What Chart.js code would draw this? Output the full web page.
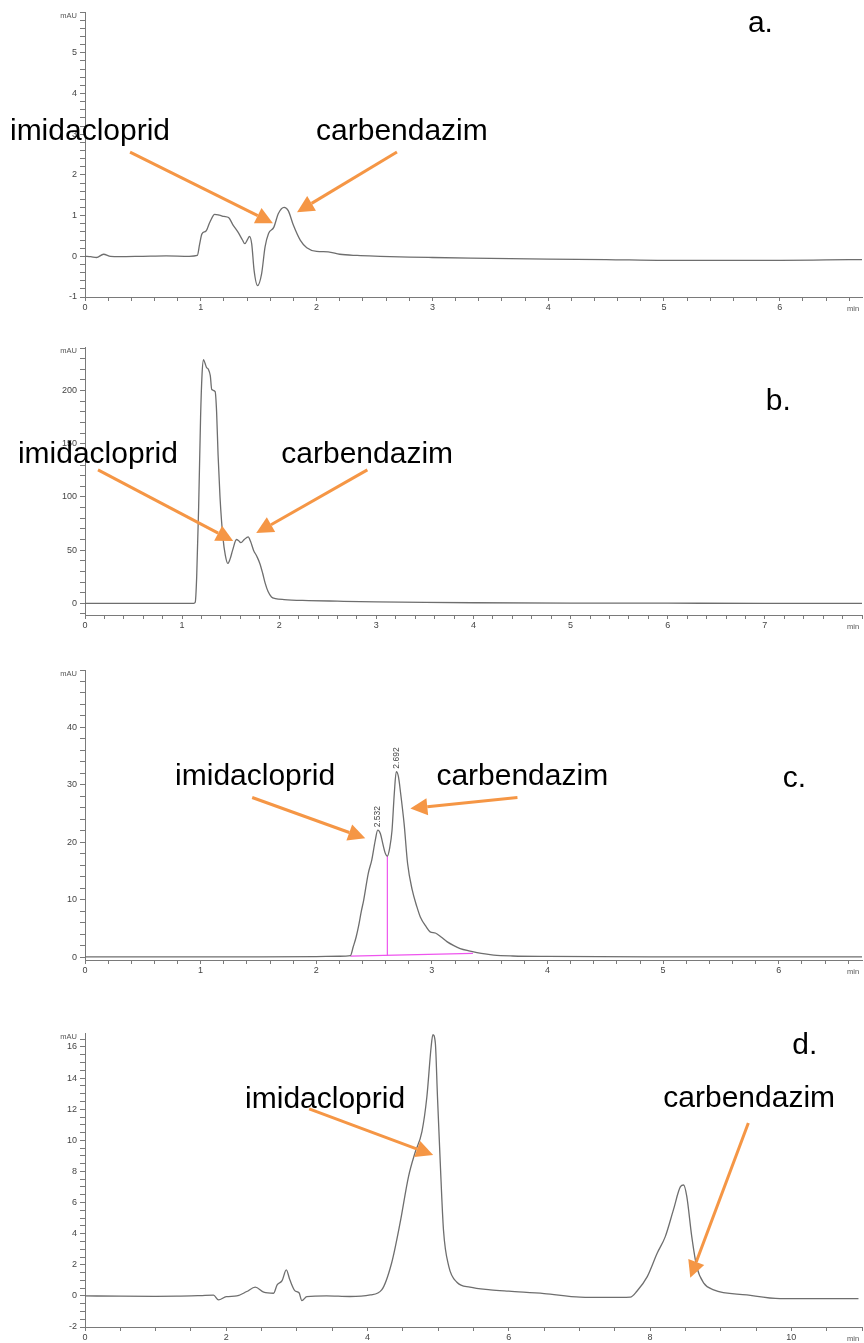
<!DOCTYPE html>
<html>
<head>
<meta charset="utf-8">
<script src="https://cdn.jsdelivr.net/npm/chart.js@4/dist/chart.umd.min.js"></script>
<style>
  body { margin: 0; background: #fff; }
  canvas.panel { position: absolute; left: 0; }
</style>
</head>
<body>
<canvas id="chartA" class="panel" width="864" height="320" style="top:0px"></canvas>
<canvas id="chartB" class="panel" width="864" height="310" style="top:330px"></canvas>
<canvas id="chartC" class="panel" width="864" height="330" style="top:650px"></canvas>
<canvas id="chartD" class="panel" width="864" height="330" style="top:1013px"></canvas>
<script>
// run a: retention time (min) / absorbance (mAU)
var timeA = [0, 0.05, 0.1, 0.16, 0.22, 0.3, 0.5, 0.7, 0.9, 0.97, 0.99, 1.01, 1.045, 1.08, 1.12, 1.16, 1.2, 1.24, 1.28, 1.32,
             1.36, 1.38, 1.405, 1.42, 1.44, 1.46, 1.49, 1.525, 1.555, 1.585, 1.63, 1.67, 1.72, 1.755, 1.8, 1.86, 1.915,
             2.0, 2.1, 2.2, 2.35, 2.55, 2.8, 3.0, 3.5, 4.0, 4.5, 5.0, 5.5, 6.0, 6.4, 6.71];
var signalA = [0, -0.01, -0.03, 0.05, 0.0, -0.01, 0.0, 0.01, 0.0, 0.02, 0.3, 0.55, 0.62, 0.85, 1.03, 1.01, 0.98, 0.95, 0.76, 0.6,
               0.4, 0.31, 0.42, 0.49, 0.3, -0.34, -0.72, -0.43, 0.23, 0.56, 0.71, 1.05, 1.2, 1.12, 0.76, 0.39, 0.21,
               0.12, 0.11, 0.05, 0.02, 0.0, -0.02, -0.03, -0.05, -0.07, -0.08, -0.1, -0.1, -0.1, -0.09, -0.08];

// run b
var timeB = [0, 0.5, 1.0, 1.12, 1.135, 1.15, 1.17, 1.19, 1.205, 1.22, 1.235, 1.25, 1.27, 1.29, 1.305, 1.34, 1.355, 1.37, 1.39,
             1.42, 1.445, 1.47, 1.495, 1.52, 1.56, 1.58, 1.605, 1.64, 1.68, 1.705, 1.735, 1.77, 1.8, 1.83, 1.855, 1.885,
             1.92, 1.96, 2.05, 2.3, 2.6, 3.0, 3.5, 4, 5, 6, 7, 8];
var signalB = [0, 0, 0, 0, 1, 25, 90, 175, 215, 229, 226, 222, 220, 214, 201, 199, 180, 140, 100,
               62, 45, 37.5, 42, 50, 60, 59, 57, 60, 62.5, 58, 50, 44, 37.5, 28, 19, 11,
               6, 4.5, 3.5, 2.6, 2.0, 1.3, 0.8, 0.5, 0.2, 0.1, 0, 0];

// run c
var timeC = [0, 0.5, 1, 1.5, 2.0, 2.2, 2.295, 2.32, 2.345, 2.365, 2.39, 2.41, 2.45, 2.48, 2.51, 2.532, 2.555, 2.575, 2.595,
             2.615, 2.635, 2.655, 2.675, 2.692, 2.71, 2.73, 2.76, 2.79, 2.83, 2.87, 2.9, 2.95, 2.985, 3.03, 3.08, 3.13,
             3.19, 3.245, 3.32, 3.39, 3.46, 3.535, 3.7, 4, 5, 6, 6.72];
var signalC = [0.05, 0.05, 0.05, 0.05, 0.1, 0.15, 0.25, 1.8, 3.5, 5.3, 8, 9.9, 14.6, 16.9, 20.3, 22.1, 21.5, 19.8, 18.2,
               17.6, 19, 22, 28.5, 32.3, 31.5, 28.5, 23.2, 16.3, 11.7, 8.8, 7.0, 5.3, 4.4, 4.2, 3.5, 2.7,
               2.0, 1.5, 1.1, 0.8, 0.55, 0.35, 0.2, 0.12, 0.05, 0.05, 0.05];
var peakTimesC = [2.532, 2.692];
// integration baseline and drop line of run c
var baseTimeC = [2.295, 3.355];
var baseSignalC = [0.17, 0.64];
var dropTimeC = [2.615, 2.615];
var dropSignalC = [0.3, 17.6];

// run d
var timeD = [0, 0.5, 1.0, 1.3, 1.63, 1.82, 1.89, 2.0, 2.15, 2.29, 2.41, 2.53, 2.67, 2.72, 2.79, 2.85, 2.9, 2.97, 3.03, 3.07,
             3.14, 3.42, 3.75, 4.04, 4.2, 4.34, 4.46, 4.58, 4.67, 4.77, 4.84, 4.9, 4.925, 4.96, 4.99, 5.03, 5.075, 5.15,
             5.265, 5.45, 5.74, 6.0, 6.5, 7.01, 7.4, 7.72, 7.81, 7.96, 8.1, 8.215, 8.33, 8.43, 8.475, 8.52, 8.59, 8.66,
             8.76, 8.9, 9.37, 9.84, 10.4, 10.95];
var signalD = [0, -0.02, -0.03, -0.02, 0.02, 0.05, -0.26, -0.05, 0.0, 0.28, 0.56, 0.24, 0.17, 0.71, 0.98, 1.67, 1.03, 0.34, 0.2, -0.3,
               -0.05, 0.0, -0.04, 0.06, 0.38, 2.1, 4.67, 7.67, 9.17, 10.56, 12.8, 16.0, 16.8, 16.24, 12.8, 8.5, 4.24, 1.9,
               0.88, 0.56, 0.39, 0.3, 0.15, -0.08, -0.1, -0.08, 0.28, 1.24, 2.74, 3.81, 5.53, 7.02, 7.13, 6.38, 3.81, 1.88,
               0.82, 0.39, 0.06, -0.18, -0.18, -0.18];

// captions and arrows, placed in axis units (min, mAU)
var labelsA = [['imidacloprid', -0.648, 2.86], ['carbendazim', 1.995, 2.86], ['a.', 5.725, 5.52]];
var arrowsA = [[0.389, 2.56, 1.623, 0.813], [2.694, 2.56, 1.831, 1.084]];
var labelsB = [['imidacloprid', -0.691, 132], ['carbendazim', 2.021, 132], ['b.', 7.01, 182]];
var arrowsB = [[0.134, 125.5, 1.526, 58.5], [2.907, 125.5, 1.763, 66]];
var labelsC = [['imidacloprid', 0.779, 29.9], ['carbendazim', 3.039, 29.9], ['c.', 6.035, 29.6]];
var arrowsC = [[1.446, 27.8, 2.424, 20.7], [3.74, 27.8, 2.814, 25.9]];
var labelsD = [['imidacloprid', 2.266, 12.08], ['carbendazim', 8.187, 12.15], ['d.', 10.014, 15.55]];
var arrowsD = [[3.173, 12.02, 4.929, 9.06], [9.391, 11.12, 8.569, 1.16]];

var ORANGE = '#f59645';
var TRACE = '#6e6e6e';
var AXIS = '#7a7a7a';

function points(xs, ys) {
    return xs.map(function (t, i) { return { x: t, y: ys[i] }; });
}

function tickList(min, max, step) {
    var out = [];
    var start = Math.ceil(min / step - 1e-9);
    for (var i = start; i * step <= max + 1e-9; i++) {
        out.push({ value: +(i * step).toFixed(4) });
    }
    return out;
}

// labelled tick: a whole multiple of the major step, but not the axis end
function tickLabel(v, major, max) {
    if (Math.abs(v - max) < 1e-6) return '';
    return Math.abs(v / major - Math.round(v / major)) < 1e-6 ? String(v) : '';
}

function drawArrow(ctx, x1, y1, x2, y2) {
    var ang = Math.atan2(y2 - y1, x2 - x1);
    var L = 17, W = 8.5;
    var bx = x2 - L * Math.cos(ang), by = y2 - L * Math.sin(ang);
    ctx.beginPath();
    ctx.moveTo(x1, y1);
    ctx.lineTo(bx, by);
    ctx.stroke();
    ctx.beginPath();
    ctx.moveTo(x2, y2);
    ctx.lineTo(bx + W * Math.sin(ang), by - W * Math.cos(ang));
    ctx.lineTo(bx - W * Math.sin(ang), by + W * Math.cos(ang));
    ctx.closePath();
    ctx.fill();
}

// axis units, captions, arrows and peak times
var decorPlugin = {
    id: 'decor',
    afterDraw: function (chart) {
        var ctx = chart.ctx, xs = chart.scales.x, ys = chart.scales.y, area = chart.chartArea;
        var p = chart.options.plugins.decor;
        ctx.save();
        ctx.fillStyle = '#555';
        ctx.font = '7.5px "Liberation Sans", Arial, sans-serif';
        ctx.textAlign = 'right';
        ctx.textBaseline = 'middle';
        ctx.fillText('mAU', area.left - 8, area.top + 4);
        ctx.textAlign = 'left';
        ctx.fillText('min', area.right - 15, area.bottom + 12);

        if (p.peaks) {
            ctx.font = '8.5px "Liberation Sans", Arial, sans-serif';
            ctx.fillStyle = '#444';
            p.peaks.forEach(function (t) {
                var h = p.signal[p.time.indexOf(t)];
                ctx.save();
                ctx.translate(xs.getPixelForValue(t), ys.getPixelForValue(h) - 3);
                ctx.rotate(-Math.PI / 2);
                ctx.textAlign = 'left';
                ctx.textBaseline = 'middle';
                ctx.fillText(t.toFixed(3), 0, 0);
                ctx.restore();
            });
        }

        ctx.fillStyle = '#000';
        ctx.font = '30px "Liberation Sans", Arial, sans-serif';
        ctx.textAlign = 'left';
        ctx.textBaseline = 'alphabetic';
        p.labels.forEach(function (l) {
            ctx.fillText(l[0], xs.getPixelForValue(l[1]), ys.getPixelForValue(l[2]));
        });

        ctx.strokeStyle = ORANGE;
        ctx.fillStyle = ORANGE;
        ctx.lineWidth = 3;
        p.arrows.forEach(function (a) {
            drawArrow(ctx, xs.getPixelForValue(a[0]), ys.getPixelForValue(a[1]),
                      xs.getPixelForValue(a[2]), ys.getPixelForValue(a[3]));
        });
        ctx.restore();
    }
};

function makeChart(id, s) {
    var H = document.getElementById(id).height;
    var datasets = [{
        data: points(s.time, s.signal),
        borderColor: TRACE,
        borderWidth: 1.3,
        pointRadius: 0,
        cubicInterpolationMode: 'monotone',
        fill: false
    }];
    (s.extra || []).forEach(function (e) {
        datasets.push({ data: e, borderColor: '#ee55ee', borderWidth: 1.2, pointRadius: 0, tension: 0, fill: false });
    });
    var tickFont = { family: '"Liberation Sans", Arial, sans-serif', size: 9 };
    return new Chart(document.getElementById(id), {
        type: 'line',
        data: { datasets: datasets },
        options: {
            responsive: false,
            animation: false,
            layout: { padding: { top: s.padTop, right: 2, left: 0, bottom: 0 } },
            plugins: {
                legend: { display: false },
                tooltip: { enabled: false },
                decor: { labels: s.labels, arrows: s.arrows, peaks: s.peaks, time: s.time, signal: s.signal }
            },
            scales: {
                x: {
                    type: 'linear',
                    min: 0,
                    max: s.xMax,
                    afterBuildTicks: function (sc) { sc.ticks = tickList(0, s.xMax, s.xMinor); },
                    afterFit: function (sc) { sc.height = H - s.areaBottom; },
                    ticks: {
                        autoSkip: false, maxRotation: 0, color: '#444', font: tickFont, padding: 1,
                        callback: function (v) { return tickLabel(v, s.xMajor, s.xMax); }
                    },
                    grid: { drawOnChartArea: false, tickLength: 4, color: AXIS },
                    border: { color: AXIS, width: 1 }
                },
                y: {
                    min: s.yMin,
                    max: s.yMax,
                    afterBuildTicks: function (sc) { sc.ticks = tickList(s.yMin, s.yMax, s.yMinor); },
                    afterFit: function (sc) { sc.width = 85; },
                    ticks: {
                        autoSkip: false, color: '#444', font: tickFont, padding: 3,
                        callback: function (v) { return tickLabel(v, s.yMajor, s.yMax); }
                    },
                    grid: { drawOnChartArea: false, tickLength: 5, color: AXIS },
                    border: { color: AXIS, width: 1 }
                }
            }
        },
        plugins: [decorPlugin]
    });
}

makeChart('chartA', {
    time: timeA, signal: signalA, labels: labelsA, arrows: arrowsA,
    xMax: 6.71, xMajor: 1, xMinor: 0.2, yMin: -1, yMax: 6, yMajor: 1, yMinor: 0.2,
    padTop: 12, areaBottom: 297
});
makeChart('chartB', {
    time: timeB, signal: signalB, labels: labelsB, arrows: arrowsB,
    xMax: 8, xMajor: 1, xMinor: 0.2, yMin: -11, yMax: 241, yMajor: 50, yMinor: 10,
    padTop: 17, areaBottom: 285
});
makeChart('chartC', {
    time: timeC, signal: signalC, labels: labelsC, arrows: arrowsC, peaks: peakTimesC,
    extra: [points(baseTimeC, baseSignalC), points(dropTimeC, dropSignalC)],
    xMax: 6.72, xMajor: 1, xMinor: 0.2, yMin: -0.5, yMax: 50, yMajor: 10, yMinor: 2,
    padTop: 20, areaBottom: 310
});
makeChart('chartD', {
    time: timeD, signal: signalD, labels: labelsD, arrows: arrowsD,
    xMax: 11, xMajor: 2, xMinor: 0.5, yMin: -2, yMax: 16.9, yMajor: 2, yMinor: 0.5,
    padTop: 20, areaBottom: 314
});
</script>
</body>
</html>
